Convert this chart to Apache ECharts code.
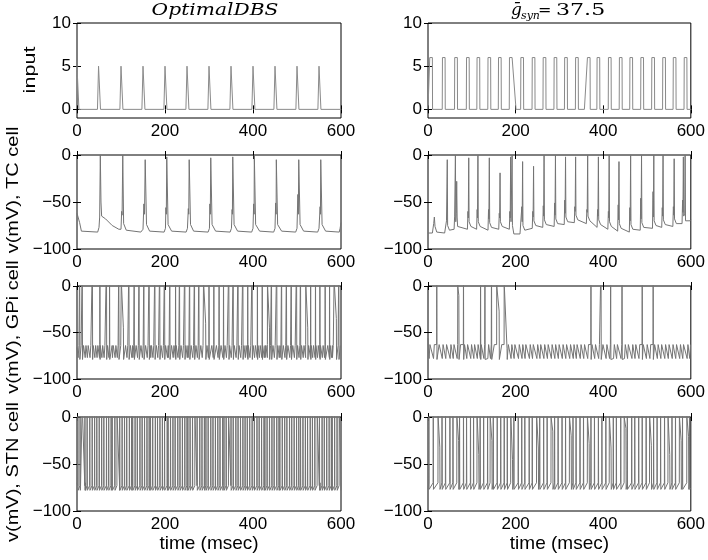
<!DOCTYPE html>
<html><head><meta charset="utf-8">
<script src="https://cdn.jsdelivr.net/npm/echarts@6/dist/echarts.min.js"></script>
<style>html,body{margin:0;padding:0;background:#fff}#c{width:708px;height:560px}</style>
</head><body><div id="c"></div>
<script>
// ================= DATA =================
const xTicks = [0, 200, 400, 600];
const inputTicks = [0, 5, 10];
const titleLeft = 'OptimalDBS';
const yNames = ['input', 'v(mV), TC cell', 'v(mV), GPi cell', 'v(mV), STN cell'];
const xName = 'time (msec)';

// input pulses (msec) and amplitudes
const inLeftT = [0, 49, 100, 150, 200, 250, 300, 350, 400, 450, 500, 550];
const inLeftAmp = 5;
const inRightT = [4, 33, 61, 88, 112, 137, 161, 186, 212, 238, 263, 288, 312, 337, 364, 386, 412, 437, 461, 486, 511, 536, 560, 585];
const inRightAmp = 6;
const inRightSlowFall = {186: 9};
const inRightSlowRise = {364: 7};

// TC cell, left: trace keypoints [t, mV] and spike peaks
const tcLeftKeys = [[0,-62],[3,-64],[6,-72],[10,-81],[47,-82],[50,-77],[51.5,-66],
  [54.5,-50],[56,-65],[65,-68],[80,-75],[95,-79],[100,-79],[101.5,-60],[102.5,-64],
  [106,-73],[112,-80],[145,-82],[150,-79],[152,-52],[153.5,-63],
  [158,-74],[165,-81],[198,-82],[201,-78],[202,-56],[203,-63],
  [207,-74],[215,-81],[248,-82],[251,-78],[253,-57],[254,-63],
  [258,-74],[265,-81],[298,-82],[301,-78],[302,-52],[303,-63],
  [307,-74],[315,-81],[348,-82],[351,-78],[352.5,-58],[353.2,-63],
  [357,-74],[365,-81],[397,-82],[400,-78],[401.5,-52],[402.5,-63],
  [406,-74],[415,-81],[447,-82],[450,-78],[451.5,-51],[452.5,-63],
  [456,-74],[465,-81],[497,-82],[500,-78],[502,-42],[503,-63],
  [507,-74],[515,-81],[547,-82],[550,-78],[552.5,-55],[553.3,-63],
  [557,-74],[565,-81],[596,-82],[598,-78],[600,-72]];
const tcLeftT    = [53, 104, 155, 204, 255, 304, 354, 403, 453, 504, 554];
const tcLeftPeak = [0, 0, -5, -2, -5, -3, -2, 0, -5, -5, -5];

// TC cell, right
const tcRightT    = [44, 62.6, 93, 114, 140, 164.5, 188.7, 216, 241, 265, 291, 314, 337, 364.5, 389, 413.6, 436, 462.6, 487.5, 515.5, 536.6, 562, 583];
const tcRightPeak = [-5, 0, -3, 0, -3, -19, -2, -7, -12, 0, 0, -2, -2, 0, -2, 0, -7, 0, 0, 0, 0, -4, -2];
const tcRightBump = [-70, -65, -60, -58, -58, -62, -60, -55, -60, -54, -51, -48, -55, -58, -58, -60, -53, -56, -46, -39, -56, -55, -48];
const tcRightLow  = [-83, -79, -79, -79, -80, -79, -79, -83, -78, -77, -76, -74, -72, -73, -77, -79, -81, -82, -80, -78, -77, -76, -73];
const tcRightExtra = [[0,-83],[10,-83],[13,-73],[14.5,-66],[16,-76],[20,-82],[38,-83],
  [64.5,-62],[65.5,-28],[66.5,-66],[191.2,-70],[192,0],[192.8,-75],[196,-84],[210,-84],
  [586.2,-62],[587,0],[587.8,-66],[598,-70],[600,-69]];

// STN spike times (msec)
const stnLeftT = [2, 7, 12.5, 18, 23, 29, 34.5, 40, 45, 50.5, 56, 61, 67, 72, 77.5, 80, 86, 91, 97, 102.5, 108, 113, 119, 124, 126.5, 132, 137, 143, 148, 153.5, 159, 164, 167, 172, 178, 183, 188.5, 194, 199, 205, 207, 212.5, 218, 223, 229, 234, 239.5, 245, 250, 252, 257, 262.5, 268, 273, 279, 284, 289.5, 293, 298, 304, 309, 314.5, 320, 325, 331, 334, 339, 344.5, 350, 355, 361, 366, 371.5, 377, 382, 387, 392.5, 398, 403, 409, 414, 419.5, 425, 427, 432, 437.5, 443, 448, 454, 459, 461, 466.5, 472, 477, 483, 488, 493.5, 499, 504, 508, 513.5, 519, 524, 530, 535, 540.5, 546, 551, 557, 562, 567.5, 573, 578, 580, 585.5, 591, 596];
const stnLeftTails = {12.5: [6, -70], 91: [5, -68], 268: [5, -70], 344.5: [5, -68], 546: [6, -70], 596: [3, -60]};
const stnRightT = [2, 12, 23, 32, 40, 50, 57, 66, 72, 81, 88, 97, 104, 112, 119, 127, 136, 142, 149, 158, 166, 174, 181, 189, 196, 206, 214, 221, 231, 238, 248, 255, 264, 272, 281, 289, 297, 306, 314, 323, 331, 338, 347, 355, 364, 372, 380, 389, 397, 406, 414, 423, 430, 440, 448, 455, 465, 472, 481, 489, 498, 506, 515, 523, 531, 540, 548, 557, 565, 574, 581, 591, 597];
const stnRightTails = {23: [3.5, -32], 66: [3.5, -25], 112: [3.5, -40], 142: [3.5, -25], 189: [3.5, -45], 248: [3.5, -33], 281: [3.5, -15], 323: [3.5, -20], 364: [3.5, -28], 414: [3.5, -33], 448: [3.5, -12], 506: [3.5, -30], 548: [3.5, -40], 574: [3.5, -25], 591: [3.5, -21]};

// GPi spike times (msec)
const gpiLeftT = [6, 12, 35, 52, 67, 74, 95, 101, 118, 130, 141, 152, 164, 177, 188, 199, 211, 224, 233, 245, 256, 267, 277, 288, 300, 311, 323, 333, 345, 355, 366, 377, 388, 398, 410, 421, 433, 442, 454, 465, 476, 487, 499, 508, 520, 531, 542, 552, 564, 574, 585, 595];
const gpiLeftTails = {101: [4, -45], 288: [4, -40], 433: [4, -45], 520: [4, -45], 585: [4, -35]};
const gpiRightT = [20, 68, 81, 120, 130, 145, 157, 174, 372, 395, 417, 443, 489, 514];
const gpiRightTails = {68: [2, -10], 157: [5, -27], 174: [6, -67]};

// ================= BUILDERS =================
function pulses(times, amp, width, rise, slowRise, slowFall) {
  const pts = [[0, 0]];
  times.forEach(t => {
    const r = (slowRise && slowRise[t]) || rise;
    const f = (slowFall && slowFall[t]) || 0.4;
    pts.push([t - r, 0], [t, amp], [t + width, amp], [t + width + f, 0]);
  });
  pts.push([600, 0]);
  return pts.sort((a, b) => a[0] - b[0]);
}
function mergePeaks(keys, times, peaks) {
  return keys.concat(times.map((t, i) => [t, peaks[i]])).sort((a, b) => a[0] - b[0]);
}
function tcEvents(T, peak, bump, low) {
  const out = [];
  T.forEach((t, i) => {
    const L = low[i];
    out.push([t - 3, L], [t - 1.8, bump[i]], [t - 1, L + 12], [t, peak[i]], [t + 0.8, L + 8], [t + 5, L + 3]);
  });
  return out;
}
function teeth(times, lo, hi) {
  const out = [];
  times.forEach(s => out.push([s + 0.6, lo], [s + 2.4, hi]));
  return out;
}
function spikeTrain(keys, times, peak, from, to, tails) {
  const pts = [], wins = [];
  times.forEach(T => {
    const tl = tails && tails[T];
    pts.push([T - 0.3, from], [T, peak]);
    let end;
    if (tl) { pts.push([T + 0.4, -2], [T + 0.4 + tl[0], tl[1]], [T + 0.9 + tl[0], to]); end = T + 0.9 + tl[0]; }
    else { pts.push([T + 0.5, to]); end = T + 0.5; }
    wins.push([T - 0.3, end]);
  });
  keys.forEach(k => { if (!wins.some(w => k[0] >= w[0] && k[0] <= w[1])) pts.push(k); });
  return pts.sort((a, b) => a[0] - b[0]);
}

const traces = [
  pulses(inLeftT, inLeftAmp, 4, 2.5),
  pulses(inRightT, inRightAmp, 6, 0.5, inRightSlowRise, inRightSlowFall),
  mergePeaks(tcLeftKeys, tcLeftT, tcLeftPeak),
  tcEvents(tcRightT, tcRightPeak, tcRightBump, tcRightLow).concat(tcRightExtra).sort((a, b) => a[0] - b[0]),
  spikeTrain([[0,-66]].concat(teeth(stnLeftT, -77, -64)), gpiLeftT, 30, -63, -79, gpiLeftTails),
  spikeTrain([[0,-56],[1.5,-70]].concat(teeth(stnRightT, -78, -63)), gpiRightT, 30, -63, -79, gpiRightTails),
  spikeTrain([[0,-70],[8,-74],[30,-77],[600,-78]], stnLeftT, 30, -73, -78, stnLeftTails),
  spikeTrain([[0,-77],[600,-76]], stnRightT, 30, -70, -77, stnRightTails)
];

// ================= LAYOUT =================
const colLeft = [77, 428], colWidth = [264, 265];
const rowTop = [23, 155, 286, 417], rowHeight = [95, 94, 93, 94];
const FONT = 'Liberation Sans, Arial, sans-serif';

const grids = [], xAxes = [], yAxes = [], series = [];
for (let r = 0; r < 4; r++) {
  for (let c = 0; c < 2; c++) {
    const gi = r * 2 + c;
    grids.push({left: colLeft[c], top: rowTop[r], width: colWidth[c], height: rowHeight[r],
      show: true, borderColor: '#000', borderWidth: 1, backgroundColor: 'transparent'});
    const xBase = {type: 'value', gridIndex: gi, min: 0, max: 600, interval: 200,
      axisLine: {show: false}, splitLine: {show: false},
      axisTick: {show: true, inside: true, length: 4, lineStyle: {color: '#000'}}};
    xAxes.push(Object.assign({}, xBase, {position: 'bottom',
      axisLabel: {show: true, color: '#000', fontSize: 17, fontFamily: FONT, margin: 5, showMinLabel: true, showMaxLabel: true},
      name: r === 3 ? xName : '', nameLocation: 'middle', nameGap: 22,
      nameTextStyle: {color: '#000', fontSize: 19, fontFamily: FONT}}));
    xAxes.push(Object.assign({}, xBase, {position: 'top', axisLabel: {show: false}}));
    const fmt = v => String(v).replace('-', '\u2212');
    let yBase;
    if (r === 0) {
      yBase = {type: 'value', gridIndex: gi, min: -1, max: 10,
        axisLine: {show: false}, splitLine: {show: false},
        axisTick: {show: true, inside: true, length: 4, lineStyle: {color: '#000'}, customValues: inputTicks}};
      yAxes.push(Object.assign({}, yBase, {position: 'left',
        axisLabel: {show: true, color: '#000', fontSize: 17, fontFamily: FONT, margin: 6, customValues: inputTicks, formatter: fmt}}));
    } else {
      yBase = {type: 'value', gridIndex: gi, min: -100, max: 0, interval: 50,
        axisLine: {show: false}, splitLine: {show: false},
        axisTick: {show: true, inside: true, length: 4, lineStyle: {color: '#000'}}};
      yAxes.push(Object.assign({}, yBase, {position: 'left',
        axisLabel: {show: true, color: '#000', fontSize: 17, fontFamily: FONT, margin: 6, showMinLabel: true, showMaxLabel: true, formatter: fmt}}));
    }
    yAxes.push(Object.assign({}, yBase, {position: 'right', axisLabel: {show: false}}));
    series.push({type: 'line', xAxisIndex: gi * 2, yAxisIndex: gi * 2, data: traces[gi],
      symbol: 'none', clip: true, animation: false, silent: true,
      lineStyle: {color: r === 0 ? '#8a8a8a' : '#747474', width: 1}});
  }
}

const yNameX = [31, 14, 14, 14];
const yNameY = [70, 190, 327, 472];
const graphic = [];
yNames.forEach((n, r) => {
  graphic.push({type: 'text', x: yNameX[r], y: yNameY[r], rotation: Math.PI / 2, scaleX: r === 0 ? 1.35 : 1.25, scaleY: 1,
    style: {text: n, align: 'center', verticalAlign: 'middle', fill: '#000', font: '16px ' + FONT}});
});
graphic.push({type: 'text', x: 215, y: 11, scaleX: 1.19, scaleY: 1,
  style: {text: titleLeft, align: 'center', verticalAlign: 'middle', fill: '#000', font: 'italic 17px "DejaVu Serif", serif'}});
graphic.push({type: 'text', x: 511, y: 11,
  style: {text: '\u1E21', align: 'left', verticalAlign: 'middle', fill: '#000', font: 'italic 17px "DejaVu Serif", serif'}});
graphic.push({type: 'text', x: 521, y: 16,
  style: {text: 'syn', align: 'left', verticalAlign: 'middle', fill: '#000', font: 'italic 11px "DejaVu Serif", serif'}});
graphic.push({type: 'text', x: 538, y: 11,
  style: {text: '=', align: 'left', verticalAlign: 'middle', fill: '#000', font: '16px "DejaVu Serif", serif'}});
graphic.push({type: 'text', x: 556, y: 11, scaleX: 1.3, scaleY: 1,
  style: {text: '37.5', align: 'left', verticalAlign: 'middle', fill: '#000', font: '17px "DejaVu Serif", serif'}});

const chart = echarts.init(document.getElementById('c'), null, {renderer: 'canvas'});
chart.setOption({animation: false, backgroundColor: '#fff', grid: grids, xAxis: xAxes, yAxis: yAxes, series: series, graphic: graphic});
</script>
</body></html>
